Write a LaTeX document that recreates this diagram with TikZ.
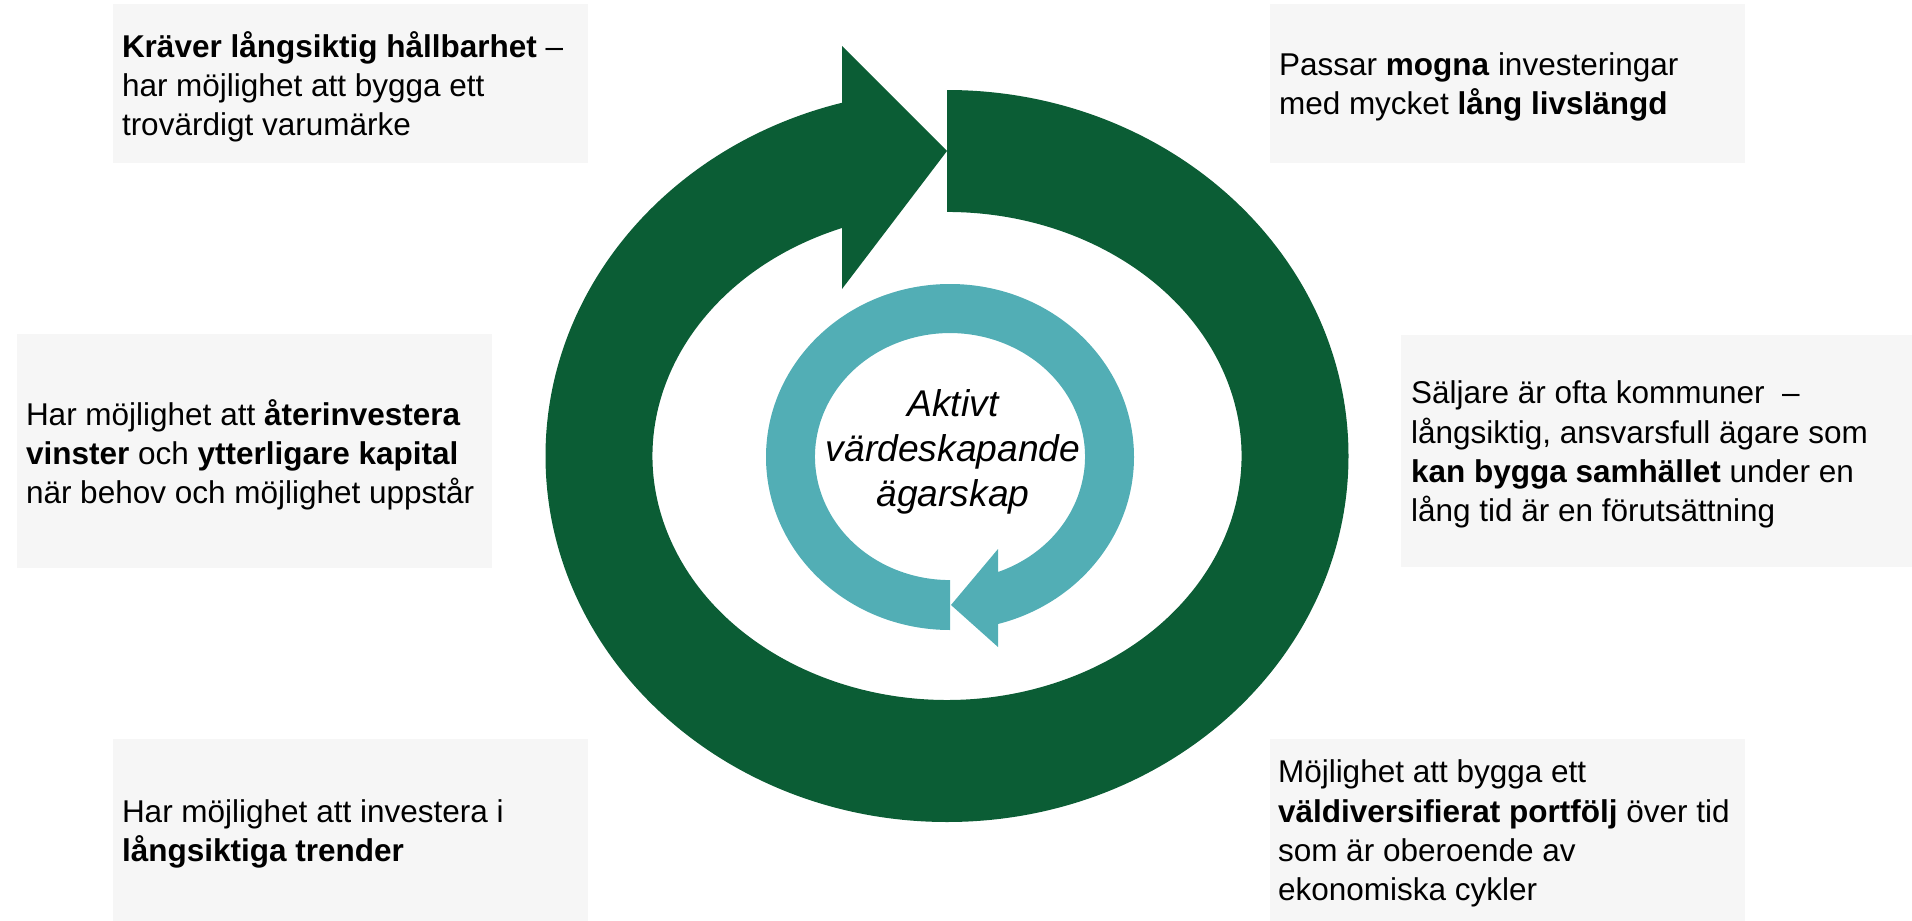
\documentclass[tikz,border=0pt]{standalone}
\usepackage{fontspec}
\setmainfont{Liberation Sans}
\definecolor{ringgreen}{RGB}{11,93,53}
\definecolor{ringcyan}{RGB}{82,174,181}
\definecolor{boxgray}{RGB}{246,246,246}
\begin{document}
\begin{tikzpicture}[x=0.5pt,y=-0.5pt,
  panel/.style={fill=boxgray, draw=none, anchor=north west, inner sep=0pt, outer sep=0pt},
  paneltext/.style={anchor=west, align=left, inner sep=0pt, outer sep=0pt, text=black,
    yshift=-1.8pt, font=\fontsize{15.75pt}{19.6pt}\selectfont},
  centretext/.style={align=center, inner sep=0pt, text=black,
    font=\fontsize{18.6pt}{22.5pt}\selectfont\itshape}
]
\useasboundingbox (0,0) rectangle (1912,921);

% panels
\node[panel, minimum width=237.5pt, minimum height=79.5pt] (p1) at (113,4) {};
\node[panel, minimum width=237.5pt, minimum height=79.5pt] (p2) at (1270,4) {};
\node[panel, minimum width=237.5pt, minimum height=117pt] (p3) at (17,334) {};
\node[panel, minimum width=255.5pt, minimum height=116pt] (p4) at (1401,335) {};
\node[panel, minimum width=237.5pt, minimum height=91pt] (p5) at (113,739) {};
\node[panel, minimum width=237.5pt, minimum height=91pt] (p6) at (1270,739) {};

% panel texts
\node[paneltext] (t1) at ([xshift=4.5pt]p1.west) {\textbf{Kräver långsiktig hållbarhet} –\\har möjlighet att bygga ett\\trovärdigt varumärke};
\node[paneltext] (t2) at ([xshift=4.5pt]p2.west) {Passar \textbf{mogna} investeringar\\med mycket \textbf{lång livslängd}};
\node[paneltext] (t3) at ([xshift=4.5pt]p3.west) {Har möjlighet att \textbf{återinvestera}\\\textbf{vinster} och \textbf{ytterligare kapital}\\när behov och möjlighet uppstår};
\node[paneltext] (t4) at ([xshift=5pt]p4.west) {Säljare är ofta kommuner~~–\\långsiktig, ansvarsfull ägare som\\\textbf{kan bygga samhället} under en\\lång tid är en förutsättning};
\node[paneltext] (t5) at ([xshift=4.5pt]p5.west) {Har möjlighet att investera i\\\textbf{långsiktiga trender}};
\node[paneltext] (t6) at ([xshift=4pt]p6.west) {Möjlighet att bygga ett\\\textbf{väldiversifierat portfölj} över tid\\som är oberoende av\\ekonomiska cykler};

% big green circular arrow
\fill[ringgreen] (947,90)
  arc[start angle=-90, end angle=254.84, x radius=401.5, y radius=366]
  -- (842,46) -- (947,151) -- (842,289) -- (842,228)
  arc[start angle=249.11, end angle=-90, x radius=294.5, y radius=244]
  -- cycle;

% inner cyan circular arrow
\fill[ringcyan] (950,630)
  arc[start angle=90, end angle=434.88, x radius=184, y radius=173]
  -- (998,647) -- (951,605) -- (998,549) -- (998,572)
  arc[start angle=429.17, end angle=90, x radius=135, y radius=123.5]
  -- cycle;

\node[centretext] (centre) at (953,452) {Aktivt\\värdeskapande\\ägarskap};
\end{tikzpicture}
\end{document}
